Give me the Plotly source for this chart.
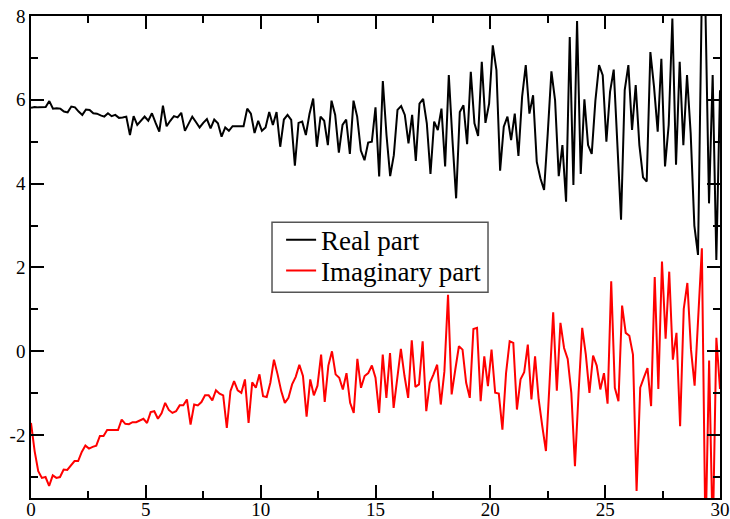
import numpy as np
import plotly.graph_objects as go

# Real part (sampled left to right, x from 0 to 30)
real_part = [
    5.81, 5.83, 5.82, 5.82, 5.83, 5.97, 5.79, 5.80, 5.79, 5.72, 5.70, 5.84, 5.82, 5.72, 5.64,
    5.77, 5.76, 5.68, 5.67, 5.63, 5.60, 5.68, 5.61, 5.64, 5.57, 5.58, 5.60, 5.16, 5.61, 5.40,
    5.50, 5.60, 5.50, 5.68, 5.45, 5.24, 5.86, 5.37, 5.50, 5.61, 5.58, 5.69, 5.26, 5.45, 5.60,
    5.47, 5.34, 5.45, 5.54, 5.32, 5.53, 5.44, 5.12, 5.34, 5.26, 5.37, 5.37, 5.37, 5.37,
    5.79, 5.67, 5.21, 5.50, 5.26, 5.34, 5.71, 5.40, 5.71, 4.88, 5.53, 5.64, 5.52, 4.43, 5.45,
    5.48, 5.16, 5.67, 6.03, 4.88, 5.60, 5.50, 4.92, 5.98, 5.64, 4.74, 5.40, 5.53, 4.71, 5.98,
    5.60, 4.79, 4.56, 4.98, 5.00, 5.82, 4.17, 6.45, 5.16, 4.18, 4.68, 5.76, 5.85, 5.64, 4.96,
    5.64, 4.54, 5.91, 6.02, 5.44, 4.23, 5.48, 5.28, 5.79, 4.41, 6.59, 5.04, 3.65, 5.71, 5.87,
    4.94, 6.67, 5.44, 5.14, 6.91, 5.45, 5.91,
    7.30, 6.71, 4.31, 5.36, 5.60, 5.04, 5.67, 4.66, 6.07, 6.83, 5.67, 6.11, 4.52, 4.13, 3.85,
    5.20, 6.68, 5.99, 4.18, 4.92, 3.57, 7.50, 3.97, 7.88, 4.23, 6.01, 4.92, 4.71, 5.98, 6.83,
    6.59, 5.00, 6.19, 6.72, 4.80, 3.14, 6.23, 6.83, 5.28, 6.35, 4.92, 4.15, 4.05, 7.14, 6.31,
    5.24, 6.98, 4.41, 5.40, 7.94, 4.45, 6.91, 4.92, 6.59, 5.20, 3.00, 2.30, 8.30, 8.30, 3.53,
    6.59, 2.18, 6.23,
]

# Imaginary part (sampled left to right, x from 0 to 30)
imag_part = [
    -1.71, -2.38, -2.86, -3.02, -3.00, -3.21, -2.96, -3.02, -3.00, -2.82, -2.83, -2.71, -2.62,
    -2.62, -2.40, -2.25, -2.32, -2.28, -2.25, -2.02, -2.02, -1.88, -1.88, -1.88, -1.88, -1.63,
    -1.73, -1.74, -1.69, -1.69, -1.65, -1.61, -1.71, -1.45, -1.43, -1.61, -1.48, -1.23, -1.40,
    -1.47, -1.43, -1.29, -1.29, -1.15, -1.75, -1.27, -1.29, -1.21, -1.05, -1.05, -1.17, -0.93,
    -1.01, -1.05, -1.83, -0.95, -0.71, -0.93, -0.99, -0.67,
    -1.71, -0.74, -0.87, -0.55, -1.07, -1.09, -0.75, -0.20, -0.55, -0.95, -1.23, -1.11, -0.79,
    -0.61, -0.32, -0.59, -1.56, -0.67, -1.05, -0.82, -0.08, -1.21, -0.34, 0.00, -0.55, -0.63,
    -0.91, -0.52, -1.23, -1.47, -0.18, -0.87, -0.59, -0.52, -0.34, -0.63, -1.47, -0.08, -1.11,
    -0.04, -1.35, -0.63, 0.06, -0.59, -1.11, 0.26, -0.85, -0.79, 0.24, -1.43, -0.75, -0.55,
    -0.32, -1.27, -0.48, 1.35, -1.03, -0.44, 0.12, 0.04, -0.75, -1.11, 0.53, 0.56, -1.19, -0.12,
    -0.83, 0.04, -0.99, -1.01, -1.87, -0.52, 0.24, 0.20, -1.39, -0.67, -0.50, 0.16, -1.15,
    -0.12, -1.15, -1.79, -2.38, -0.75, 0.93, -0.94, 0.68, 0.08, -0.18, -0.99, -2.74, -0.99,
    0.56, -0.08, -0.99, -0.10, -0.34, -0.91, -0.52, -1.25, 1.67, -0.87, -1.19, 1.09, 0.44,
    0.37, -0.08, -3.33, -0.87, -0.63, -0.40, -1.31, 1.77, -0.90, 2.14, 0.30, 1.90, -0.20,
    0.44, -1.79, 1.01, 1.63, 0.04, -0.82, 0.99, 2.46, -4.50, -0.22, -4.50, 0.32, -0.90,
]

x_start, x_end = 0.0, 30.0
x_real = np.linspace(x_start, x_end, len(real_part))
x_imag = np.linspace(x_start, x_end, len(imag_part))

x_tickvals = [0, 5, 10, 15, 20, 25, 30]
x_ticktext = ["0", "5", "10", "15", "20", "25", "30"]
y_tickvals = [-2, 0, 2, 4, 6, 8]
y_ticktext = ["-2", "0", "2", "4", "6", "8"]

series_names = ["Real part", "Imaginary part"]
series_colors = ["#000000", "#ff0000"]

SERIF = "Liberation Serif, Times New Roman, serif"

fig = go.Figure()
fig.add_trace(go.Scatter(x=x_real, y=real_part, mode="lines", name=series_names[0],
                         line=dict(color=series_colors[0], width=2), legend="legend"))
fig.add_trace(go.Scatter(x=x_imag, y=imag_part, mode="lines", name=series_names[1],
                         line=dict(color=series_colors[1], width=2), legend="legend2"))

axis_common = dict(
    showgrid=False, zeroline=False, showline=True, linecolor="black", linewidth=1.5,
    mirror="allticks", ticks="inside", ticklen=13, tickwidth=1.5, tickcolor="black",
    tickfont=dict(family=SERIF, size=19, color="black"), automargin=False,
    tickmode="array",
)

fig.update_xaxes(range=[0, 30], tickvals=x_tickvals, ticktext=x_ticktext,
                 ticklabelstandoff=-7,
                 minor=dict(ticks="inside", ticklen=7, tickwidth=1.5, tickcolor="black",
                            tickvals=[2.5, 7.5, 12.5, 17.5, 22.5, 27.5]),
                 **axis_common)
fig.update_yaxes(range=[-3.5, 8], tickvals=y_tickvals, ticktext=y_ticktext,
                 minor=dict(ticks="inside", ticklen=7, tickwidth=1.5, tickcolor="black",
                            tickvals=[-3, -1, 1, 3, 5, 7]),
                 **axis_common)

legend_style = dict(xanchor="left", yanchor="middle", bgcolor="rgba(0,0,0,0)",
                    borderwidth=0, font=dict(family=SERIF, size=27, color="black"))

fig.update_layout(
    width=730, height=519,
    template="none",
    paper_bgcolor="white", plot_bgcolor="white",
    margin=dict(l=31, r=10, t=16, b=21, pad=0),
    showlegend=True,
    legend=dict(x=0.363, y=0.535, **legend_style),
    legend2=dict(x=0.363, y=0.471, **legend_style),
    shapes=[dict(type="rect", xref="paper", yref="paper",
                 x0=0.3498, x1=0.6633, y0=0.4269, y1=0.5719,
                 line=dict(color="#555555", width=1.5), fillcolor="white", layer="above")],
)

fig.write_html("out.html", config={"displayModeBar": False},
               post_script="document.body.style.margin='0';")
